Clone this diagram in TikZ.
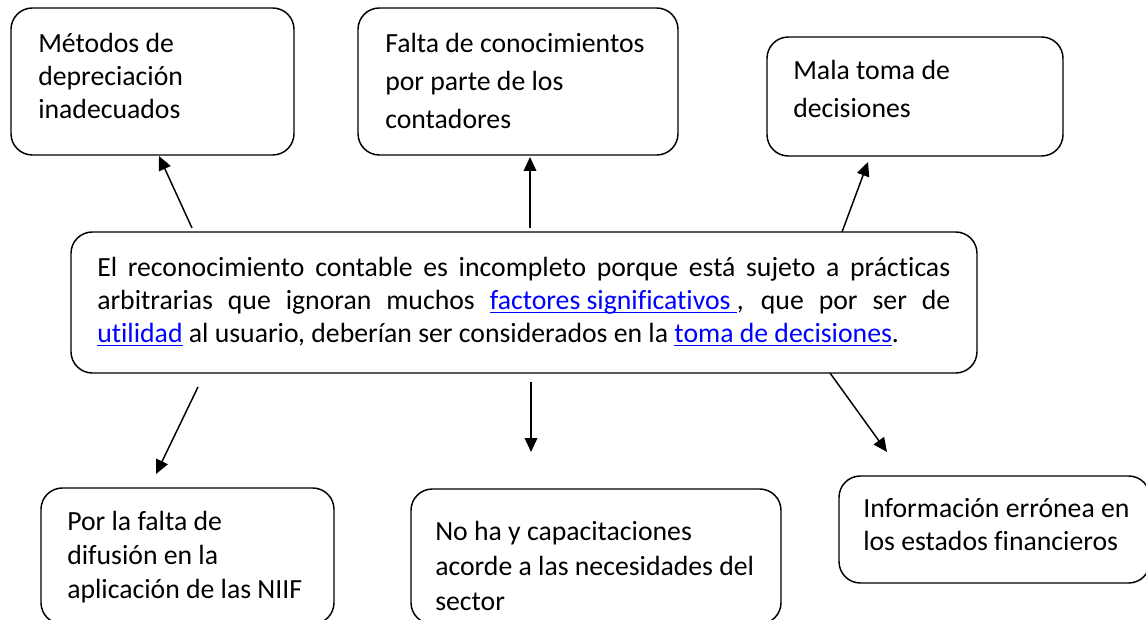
\documentclass[tikz,border=0pt]{standalone}
\usepackage{fontspec}
\setmainfont{Carlito}[Ligatures={NoCommon,NoRare,NoContextual}]
\usetikzlibrary{arrows.meta}
\definecolor{lblue}{RGB}{0,0,255}
\newcommand\lnk[1]{{\color{lblue}\setbox0\hbox{#1}\rlap{\rule[-3pt]{\wd0}{0.9pt}}\box0}}
\tikzset{
  boxst/.style={draw, line width=1.1pt, rounded corners=16pt, inner sep=0pt},
  txt/.style={anchor=north west, inner sep=0pt, align=left, font=\fontsize{20.8pt}{#1}\selectfont},
  arr/.style={line width=1.1pt, -{Triangle[length=10.5pt,width=9.5pt]}}
}
\begin{document}
\begin{tikzpicture}[x=0.75pt,y=-0.75pt]
\useasboundingbox (0,0) rectangle (1146,620);
% boxes
\node[boxst, minimum width=283*0.75pt, minimum height=147*0.75pt] (b1) at (152.5,81.5) {};
\node[boxst, minimum width=320*0.75pt, minimum height=147*0.75pt] (b2) at (518,81.5) {};
\node[boxst, minimum width=296*0.75pt, minimum height=119*0.75pt] (b3) at (915,96.5) {};
\node[boxst, minimum width=906*0.75pt, minimum height=141*0.75pt] (c) at (524,302.5) {};
\node[boxst, minimum width=293*0.75pt, minimum height=136*0.75pt] (d1) at (187.5,556) {};
\node[boxst, minimum width=370*0.75pt, minimum height=135*0.75pt] (d2) at (596,556.5) {};
\node[boxst, minimum width=311*0.75pt, minimum height=107*0.75pt] (d3) at (994.5,529.5) {};
% texts
\node[txt=24.75pt] (t1) at (38,28.9) {\strut Métodos de\\depreciación\\inadecuados};
\node[txt=28.5pt] (t2) at (385,25.4) {\strut Falta de conocimientos\\por parte de los\\contadores};
\node[txt=28.5pt] (t3) at (793,52.4) {\strut Mala toma de\\decisiones};
\node[txt=24.75pt, text width=639.75pt, align=justify] (tc) at (97,252.9) {\strut El reconocimiento contable es incompleto porque está sujeto a prácticas\linebreak arbitrarias que ignoran muchos \lnk{factores significativos\ }, que por ser de\linebreak \lnk{utilidad} al usuario, deberían ser considerados en la \lnk{toma de decisiones}.};
\node[txt=25.5pt] (td1) at (67,506.2) {\strut Por la falta de\\difusión en la\\aplicación de las NIIF};
\node[txt=26.25pt] (td2) at (435,515.5) {\strut No ha y capacitaciones\\acorde a las necesidades del\\sector};
\node[txt=24.75pt] (td3) at (863,493.9) {\strut Información errónea en\\los estados financieros};
% arrow ends
\coordinate (a1s) at (192,228); \coordinate (a1e) at (159,156);
\coordinate (a2s) at (530,228); \coordinate (a2e) at (530,157);
\coordinate (a3s) at (842,232); \coordinate (a3e) at (868,162);
\coordinate (a4s) at (198,387); \coordinate (a4e) at (156,474);
\coordinate (a5s) at (531,382); \coordinate (a5e) at (531,452);
\coordinate (a6s) at (830,373); \coordinate (a6e) at (887,452);
\draw[arr] (a1s) -- (a1e);
\draw[arr] (a2s) -- (a2e);
\draw[arr] (a3s) -- (a3e);
\draw[arr] (a4s) -- (a4e);
\draw[arr] (a5s) -- (a5e);
\draw[arr] (a6s) -- (a6e);
\end{tikzpicture}
\end{document}
